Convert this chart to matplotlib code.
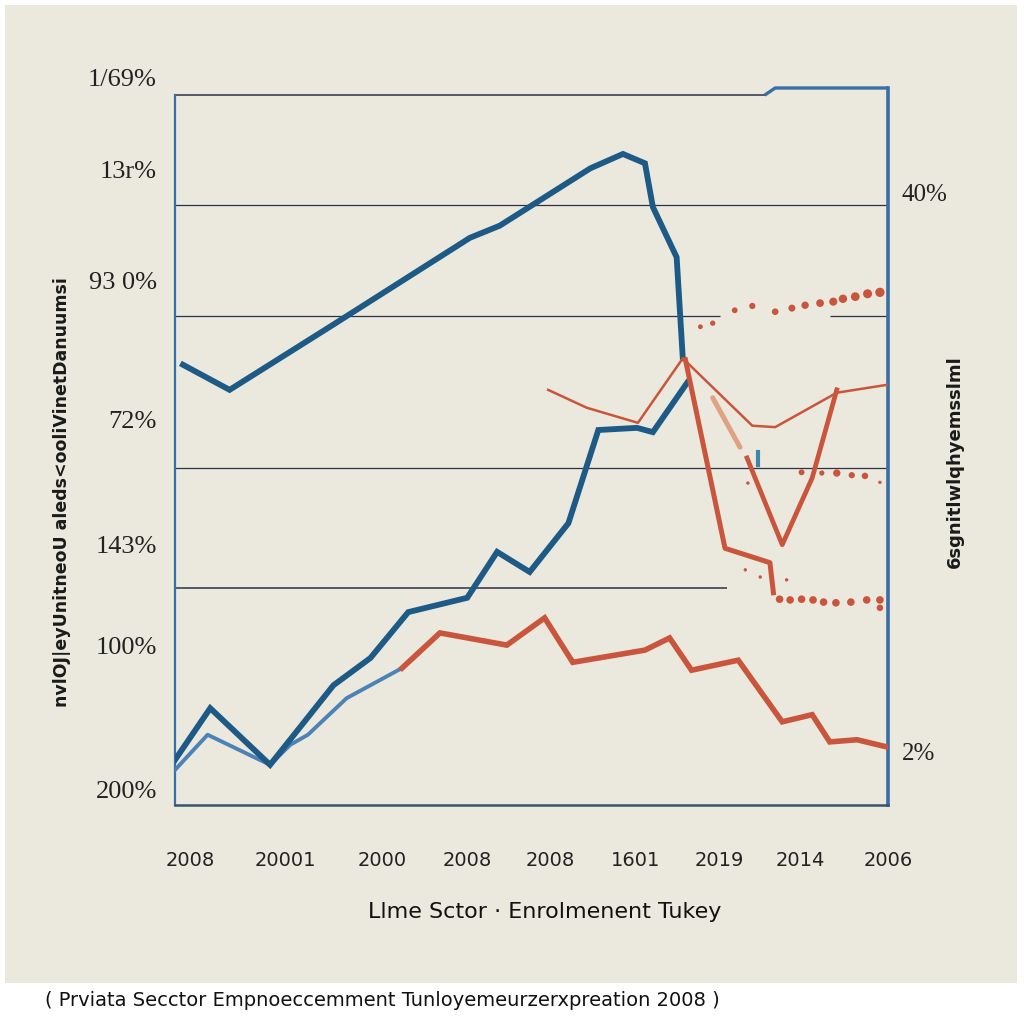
import numpy as np
import matplotlib
matplotlib.use("Agg")
import matplotlib.pyplot as plt
from matplotlib.patches import Rectangle

# --- data (x in tick periods, y in percent of axis height) ---
upper_blue_x = [-0.08, 0.45, 1.59, 3.18, 3.52, 4.55, 4.92, 5.17, 5.26, 5.53, 5.60]
upper_blue_y = [61.4, 57.9, 66.7, 79.1, 80.8, 88.8, 90.8, 89.5, 83.4, 76.4, 62.3]

lower_blue_x = [-0.17, 0.23, 0.91, 1.63, 2.05, 2.48, 3.15, 3.49, 3.86, 4.30, 4.64, 5.08, 5.26, 5.65]
lower_blue_y = [6.3, 13.5, 5.6, 16.7, 20.5, 26.9, 28.9, 35.3, 32.5, 39.3, 52.3, 52.6, 52.0, 58.9]

light_blue_x = [-0.17, 0.20, 0.91, 1.14, 1.34, 1.78, 2.41]
light_blue_y = [4.9, 9.8, 5.6, 8.4, 9.8, 14.9, 19.1]

red_x = [2.41, 2.84, 3.60, 4.03, 4.35, 5.17, 5.45, 5.70, 6.23, 6.73, 7.07, 7.27, 7.58, 7.92]
red_y = [19.1, 24.0, 22.3, 26.1, 19.9, 21.6, 23.3, 18.8, 20.2, 11.6, 12.6, 8.8, 9.1, 8.1]

thin_red_x = [4.07, 4.51, 5.09, 5.60, 6.39, 6.65, 7.35, 7.92]
thin_red_y = [57.9, 55.4, 53.3, 62.3, 52.9, 52.7, 57.5, 58.6]

drop_x = [5.63, 6.08, 6.59, 6.63]
drop_y = [62.1, 35.8, 33.8, 29.6]

vee_x = [6.33, 6.73, 7.07, 7.35]
vee_y = [48.4, 36.3, 45.6, 57.9]

salmon_x = [5.94, 6.25]
salmon_y = [56.8, 49.9]

teal_x = [6.45, 6.45]
teal_y = [49.2, 47.4]

dots_hi_x = [5.80, 5.94, 6.19, 6.39, 6.65, 6.84, 6.99, 7.16, 7.31, 7.42, 7.56, 7.70, 7.84]
dots_hi_y = [66.7, 67.2, 69.0, 69.6, 68.8, 69.3, 69.7, 70.0, 70.2, 70.6, 70.9, 71.3, 71.5]

dots_mid_x = [6.34, 6.95, 7.18, 7.35, 7.52, 7.67, 7.84]
dots_mid_y = [44.9, 46.4, 46.3, 46.3, 46.0, 45.9, 45.0]

dots_lo_x = [6.31, 6.48, 6.78, 6.70, 6.82, 6.95, 7.08, 7.20, 7.34, 7.51, 7.69, 7.84, 7.84]
dots_lo_y = [32.8, 31.8, 31.4, 28.7, 28.6, 28.7, 28.6, 28.3, 28.2, 28.3, 28.6, 28.6, 27.5]

grid_y = [99.0, 83.7, 68.2, 47.0, 30.3]

xtick_pos = [0, 1.08, 2.18, 3.15, 4.09, 5.06, 6.02, 6.93, 7.93]
xtick_labels = ["2008", "20001", "2000", "2008", "2008", "1601", "2019", "2014", "2006"]

ytick_pos = [88.6, 73.2, 53.7, 36.3, 22.3, 2.1]
ytick_labels = ["13r%", "93 0%", "72%", "143%", "100%", "200%"]
ytop_pos = 101.1
ytop_label = "1/69%"

rtick_pos = [85.4, 7.4]
rtick_labels = ["40%", "2%"]

BG = "#ebe9dd"
DARK_BLUE = "#1d5a86"
LIGHT_BLUE = "#4d82b6"
SPINE_BLUE = "#3a6ea6"
RED = "#c9553c"
GRID = "#2a3148"
XMIN, XMAX = -0.1705, 7.932

fig = plt.figure(figsize=(10.24, 10.24), dpi=100)
fig.patch.set_facecolor("white")
fig.patches.append(Rectangle((5 / 1024, 41 / 1024), 1012 / 1024, 978 / 1024,
                             transform=fig.transFigure, facecolor=BG,
                             edgecolor="none", zorder=-10))

ax = fig.add_axes([175 / 1024, 219 / 1024, 713 / 1024, 717 / 1024])
ax.set_facecolor(BG)

# grid lines (some are cut short like in the picture)
ax.hlines(grid_y[0], XMIN, 6.53, color=GRID, lw=1.1, zorder=1)
ax.hlines(grid_y[1], XMIN, XMAX, color=GRID, lw=0.9, zorder=1)
ax.hlines(grid_y[2], XMIN, 6.02, color=GRID, lw=0.9, zorder=1)
ax.hlines(grid_y[2], 7.27, XMAX, color=GRID, lw=0.9, zorder=1)
ax.hlines(grid_y[3], XMIN, XMAX, color=GRID, lw=0.9, zorder=1)
ax.hlines(grid_y[4], XMIN, 6.10, color=GRID, lw=1.1, zorder=1)

# top frame step
ax.plot([6.53, 6.65, XMAX], [grid_y[0], 100, 100], color=SPINE_BLUE, lw=2.4,
        clip_on=False, zorder=3, solid_capstyle="butt")

ax.plot(upper_blue_x, upper_blue_y, color=DARK_BLUE, lw=4.2, zorder=4, solid_joinstyle="miter")
ax.plot(light_blue_x, light_blue_y, color=LIGHT_BLUE, lw=2.8, zorder=3)
ax.plot(lower_blue_x, lower_blue_y, color=DARK_BLUE, lw=4.2, zorder=4, solid_joinstyle="miter")
ax.plot(red_x, red_y, color=RED, lw=4.0, zorder=4, solid_joinstyle="miter")
ax.plot(thin_red_x, thin_red_y, color=RED, lw=1.8, zorder=4)
ax.plot(drop_x, drop_y, color=RED, lw=3.6, zorder=4)
ax.plot(vee_x, vee_y, color=RED, lw=3.4, zorder=4)
ax.plot(salmon_x, salmon_y, color="#dfa283", lw=3.6, zorder=3, solid_capstyle="round")
ax.plot(teal_x, teal_y, color="#3e86a8", lw=3.0, zorder=3)

ax.scatter(dots_hi_x, dots_hi_y, s=np.linspace(12, 45, len(dots_hi_x)), color=RED, zorder=4,
           clip_on=False, linewidths=0)
ax.scatter(dots_mid_x, dots_mid_y, s=[6, 18, 14, 28, 20, 22, 6], color=RED, zorder=4,
           linewidths=0)
ax.scatter(dots_lo_x, dots_lo_y, s=[6, 6, 6] + [30] * 9 + [22], color=RED, zorder=4,
           linewidths=0, clip_on=False)

ax.spines["top"].set_visible(False)
ax.spines["left"].set_color(SPINE_BLUE)
ax.spines["left"].set_linewidth(1.6)
ax.spines["left"].set_bounds(0, grid_y[0])
ax.spines["right"].set_color(SPINE_BLUE)
ax.spines["right"].set_linewidth(2.6)
ax.spines["bottom"].set_color("#3a5070")
ax.spines["bottom"].set_linewidth(1.8)

ax.set_xticks(xtick_pos)
ax.set_xticklabels(xtick_labels, fontsize=14, color="#222222")
ax.tick_params(axis="x", length=0, pad=33)

ax.set_yticks(ytick_pos)
ax.set_yticklabels(ytick_labels, fontsize=19, family="Liberation Serif", color="#222222")
ax.tick_params(axis="y", length=0, pad=13)
ax.annotate(ytop_label, xy=(0, ytop_pos), xycoords=("axes fraction", "data"),
            xytext=(-13, 0), textcoords="offset points", ha="right", va="center",
            fontsize=19, family="Liberation Serif", color="#222222", annotation_clip=False)

ax.set_xlim(XMIN, XMAX)
ax.set_ylim(0, 100)

ax2 = ax.twinx()
ax2.set_yticks(rtick_pos)
ax2.set_yticklabels(rtick_labels, fontsize=18, family="Liberation Serif", color="#222222")
ax2.tick_params(axis="y", length=0, pad=10)
ax2.set_ylim(0, 100)
for s in ax2.spines.values():
    s.set_visible(False)

fig.text(62 / 1024, 1 - 492 / 1024, "nvlOJ|eyUnitneoU aleds<ooliVinetDanuumsi",
         rotation=90, ha="center", va="center", fontsize=12.5, fontweight="bold",
         color="#1a1a1a")
fig.text(955 / 1024, 1 - 462 / 1024, "6sgnitlwlqhyemsslml",
         rotation=90, ha="center", va="center", fontsize=13, fontweight="bold",
         color="#1a1a1a")

fig.text(545 / 1024, 1 - 912 / 1024, "Llme Sctor · Enrolmenent Tukey",
         ha="center", va="center", fontsize=16, color="#111111")
fig.text(45 / 1024, 1 - 1000 / 1024,
         "( Prviata Secctor Empnoeccemment Tunloyemeurzerxpreation 2008 )",
         ha="left", va="center", fontsize=14, color="#111111")

fig.savefig("out.png", dpi=100, facecolor=fig.get_facecolor())
